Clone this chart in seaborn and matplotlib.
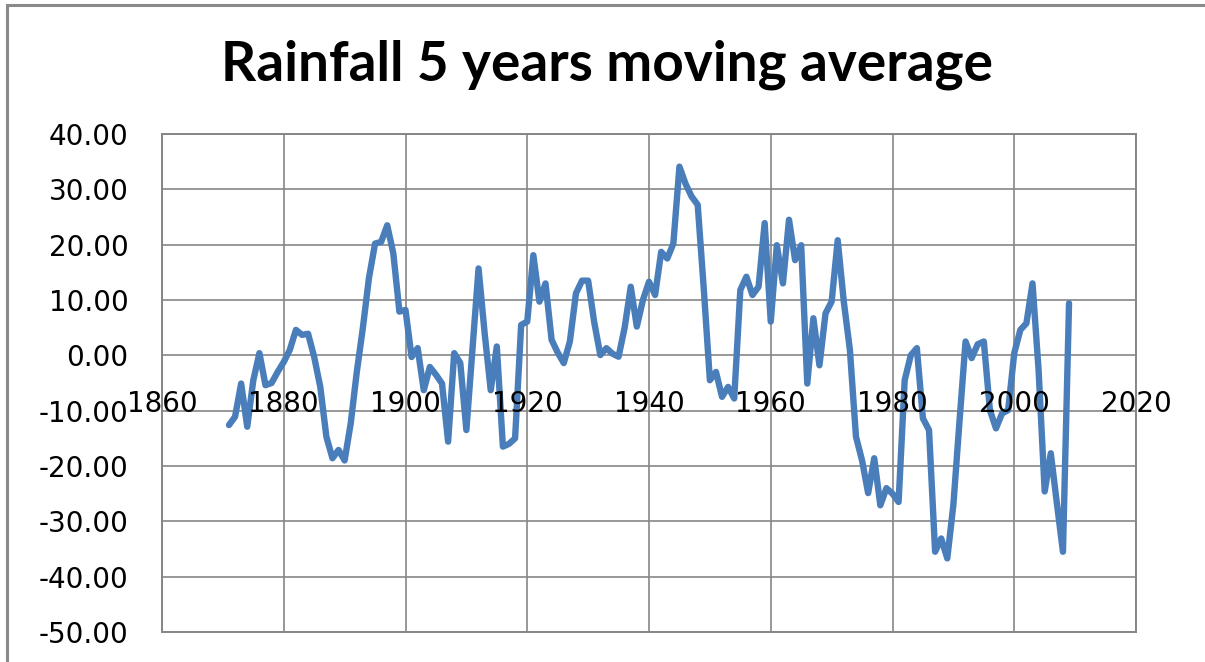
import matplotlib
matplotlib.use("Agg")
import matplotlib.pyplot as plt
from matplotlib.patches import Rectangle
import seaborn as sns
import pandas as pd

# Annual 5-year moving average of rainfall departures
years = list(range(1871, 2010))
rainfall_ma = [
    -12.6, -11.1, -5.1, -12.9, -4.5, 0.4, -5.4, -5.0, -3.0, -1.2,    # 1871-1880
    1.0, 4.6, 3.7, 3.9, -0.3, -5.7, -14.7, -18.6, -17.1, -19.0,      # 1881-1890
    -12.3, -3.0, 5.0, 14.0, 20.2, 20.5, 23.5, 18.4, 7.9, 8.2,        # 1891-1900
    -0.3, 1.3, -6.3, -2.1, -3.5, -5.1, -15.6, 0.4, -1.4, -13.5,      # 1901-1910
    1.0, 15.7, 4.0, -6.3, 1.6, -16.5, -16.0, -15.0, 5.5, 6.1,        # 1911-1920
    18.1, 9.7, 13.0, 2.8, 0.5, -1.4, 2.5, 11.2, 13.5, 13.5,          # 1921-1930
    6.0, 0.05, 1.3, 0.3, -0.25, 5.0, 12.4, 5.2, 10.0, 13.3,          # 1931-1940
    10.9, 18.7, 17.5, 20.2, 34.1, 31.0, 28.7, 27.2, 12.0, -4.5,      # 1941-1950
    -3.0, -7.5, -5.7, -7.8, 11.8, 14.2, 10.9, 12.4, 23.9, 6.1,       # 1951-1960
    19.9, 13.0, 24.5, 17.2, 19.9, -5.1, 6.7, -1.8, 7.6, 9.7,         # 1961-1970
    20.8, 9.7, 1.0, -14.7, -19.0, -24.9, -18.6, -27.1, -24.0, -25.0, # 1971-1980
    -26.5, -4.5, 0.0, 1.3, -11.4, -13.5, -35.5, -33.1, -36.7, -27.0, # 1981-1990
    -12.0, 2.5, -0.5, 2.0, 2.5, -9.9, -13.2, -10.5, -9.9, 0.4,       # 1991-2000
    4.6, 5.8, 13.0, -2.7, -24.6, -17.7, -26.7, -35.5, 9.4,           # 2001-2009
]

x_ticks = [1860, 1880, 1900, 1920, 1940, 1960, 1980, 2000, 2020]
y_ticks = [40, 30, 20, 10, 0, -10, -20, -30, -40, -50]

df = pd.DataFrame({"year": years, "rain": rainfall_ma})

sns.set_theme(style="white")
plt.rcParams["font.family"] = ["DejaVu Sans"]

W, H = 1205, 662
fig = plt.figure(figsize=(W / 100, H / 100), dpi=100)
fig.patch.set_facecolor("white")

grid_col = "#868686"

# chart-area frame (left and top edges visible)
fig.patches.append(Rectangle((7 / W, -0.1), 1.2, 1 - 5 / H + 0.1,
                             transform=fig.transFigure, fill=False,
                             edgecolor="#8a8a8a", linewidth=2.2))

ax = fig.add_axes([162 / W, 1 - 632 / H, (1136 - 162) / W, (632 - 134) / H])

sns.lineplot(data=df, x="year", y="rain", ax=ax, color="#4A7EBB",
             linewidth=4.6, solid_joinstyle="round", solid_capstyle="round",
             zorder=3)

ax.set_xlim(1860, 2020)
ax.set_ylim(-50, 40)
ax.set_xticks(x_ticks)
ax.set_yticks(y_ticks)
ax.set_yticklabels([f"{v:.2f}" for v in y_ticks], fontsize=20, color="#000000")
ax.tick_params(axis="y", length=0, pad=24)
ax.tick_params(axis="x", length=0, labelbottom=False)
ax.set_xlabel("")
ax.set_ylabel("")

ax.grid(True, color=grid_col, linewidth=1.2)
for s in ax.spines.values():
    s.set_color(grid_col)
    s.set_linewidth(1.4)

# category labels sit next to the horizontal axis line
for yr in x_ticks:
    ax.text(yr, -8.8, str(yr), ha="center", va="center", fontsize=20,
            color="#000000", zorder=4)

fig.text(607 / W, 1 - 65 / H, "Rainfall 5 years moving average",
         ha="center", va="center", fontsize=39.5, fontweight="bold",
         family=["Lato", "DejaVu Sans"], color="#000000")

fig.savefig("out.png", dpi=100, facecolor="white")
